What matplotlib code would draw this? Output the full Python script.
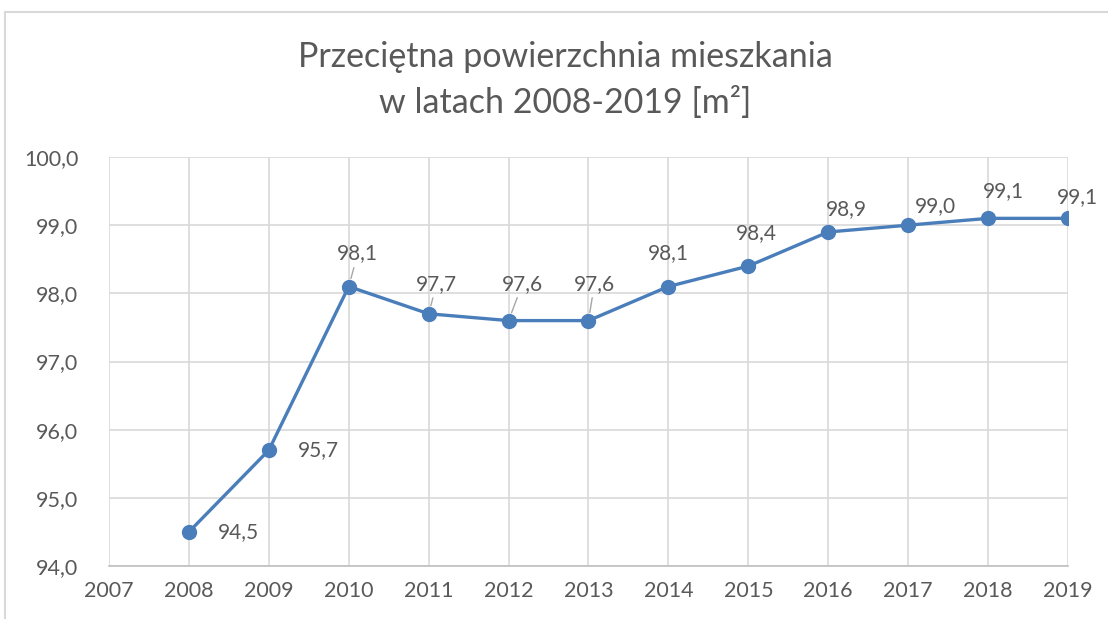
import matplotlib.pyplot as plt
from matplotlib.patches import Rectangle
from matplotlib.ticker import FuncFormatter

years = [2008, 2009, 2010, 2011, 2012, 2013, 2014, 2015, 2016, 2017, 2018, 2019]
area = [94.5, 95.7, 98.1, 97.7, 97.6, 97.6, 98.1, 98.4, 98.9, 99.0, 99.1, 99.1]
# label offsets in pixels, and whether a leader line is drawn
offsets = [(50, 0), (50, 0), (9, 33), (8, 30), (14, 37), (6, 37),
           (0, 33), (8, 33), (18, 23), (27, 19), (15, 27), (9, 21)]
leaders = [False, False, True, True, True, True,
           False, False, False, False, False, False]

plt.rcParams['font.family'] = ['Lato', 'DejaVu Sans']
gray = "#595959"
blue = "#4a7ebb"

fig = plt.figure(figsize=(11.08, 6.19), dpi=100)
fig.patches.append(Rectangle((5 / 1108, -0.1), 1.2, 1.1 - 12 / 619, transform=fig.transFigure,
                             fill=False, edgecolor="#d9d9d9", linewidth=1.5))
ax = fig.add_axes([109 / 1108, 1 - 566 / 619, (1068 - 109) / 1108, (566 - 157) / 619])

ax.plot(years, area, color=blue, linewidth=2.4, marker="o", markersize=10, zorder=3)

for x, y, (dx, dy), lead in zip(years, area, offsets, leaders):
    arrow = dict(arrowstyle="-", color="#a6a6a6", lw=1, shrinkA=1, shrinkB=6) if lead else None
    ax.annotate(f"{y:.1f}".replace(".", ","), (x, y), xytext=(dx, dy),
                textcoords="offset pixels", ha="center", va="center",
                fontsize=15, color=gray, arrowprops=arrow, annotation_clip=False)

ax.set_xlim(2007, 2019)
ax.set_ylim(94, 100)
ax.set_xticks(range(2007, 2020))
ax.set_yticks(range(94, 101))
ax.yaxis.set_major_formatter(FuncFormatter(lambda v, p: f"{v:.1f}".replace(".", ",")))
ax.tick_params(length=0, labelsize=15.5, colors=gray, pad=11)
ax.tick_params(axis="y", pad=22)
ax.grid(True, color="#d9d9d9", linewidth=1.2)
ax.set_axisbelow(True)
for s in ["top", "right", "left"]:
    ax.spines[s].set_visible(False)
ax.spines["bottom"].set_color("#bfbfbf")
ax.spines["bottom"].set_linewidth(1.2)

fig.text(565 / 1108, 1 - 57 / 619, "Przeciętna powierzchnia mieszkania",
         ha="center", va="center", fontsize=24.5, color=gray)
fig.text(565 / 1108, 1 - 103 / 619, "w latach 2008-2019 [m²]",
         ha="center", va="center", fontsize=24.5, color=gray)

fig.savefig("out.png", dpi=100)
